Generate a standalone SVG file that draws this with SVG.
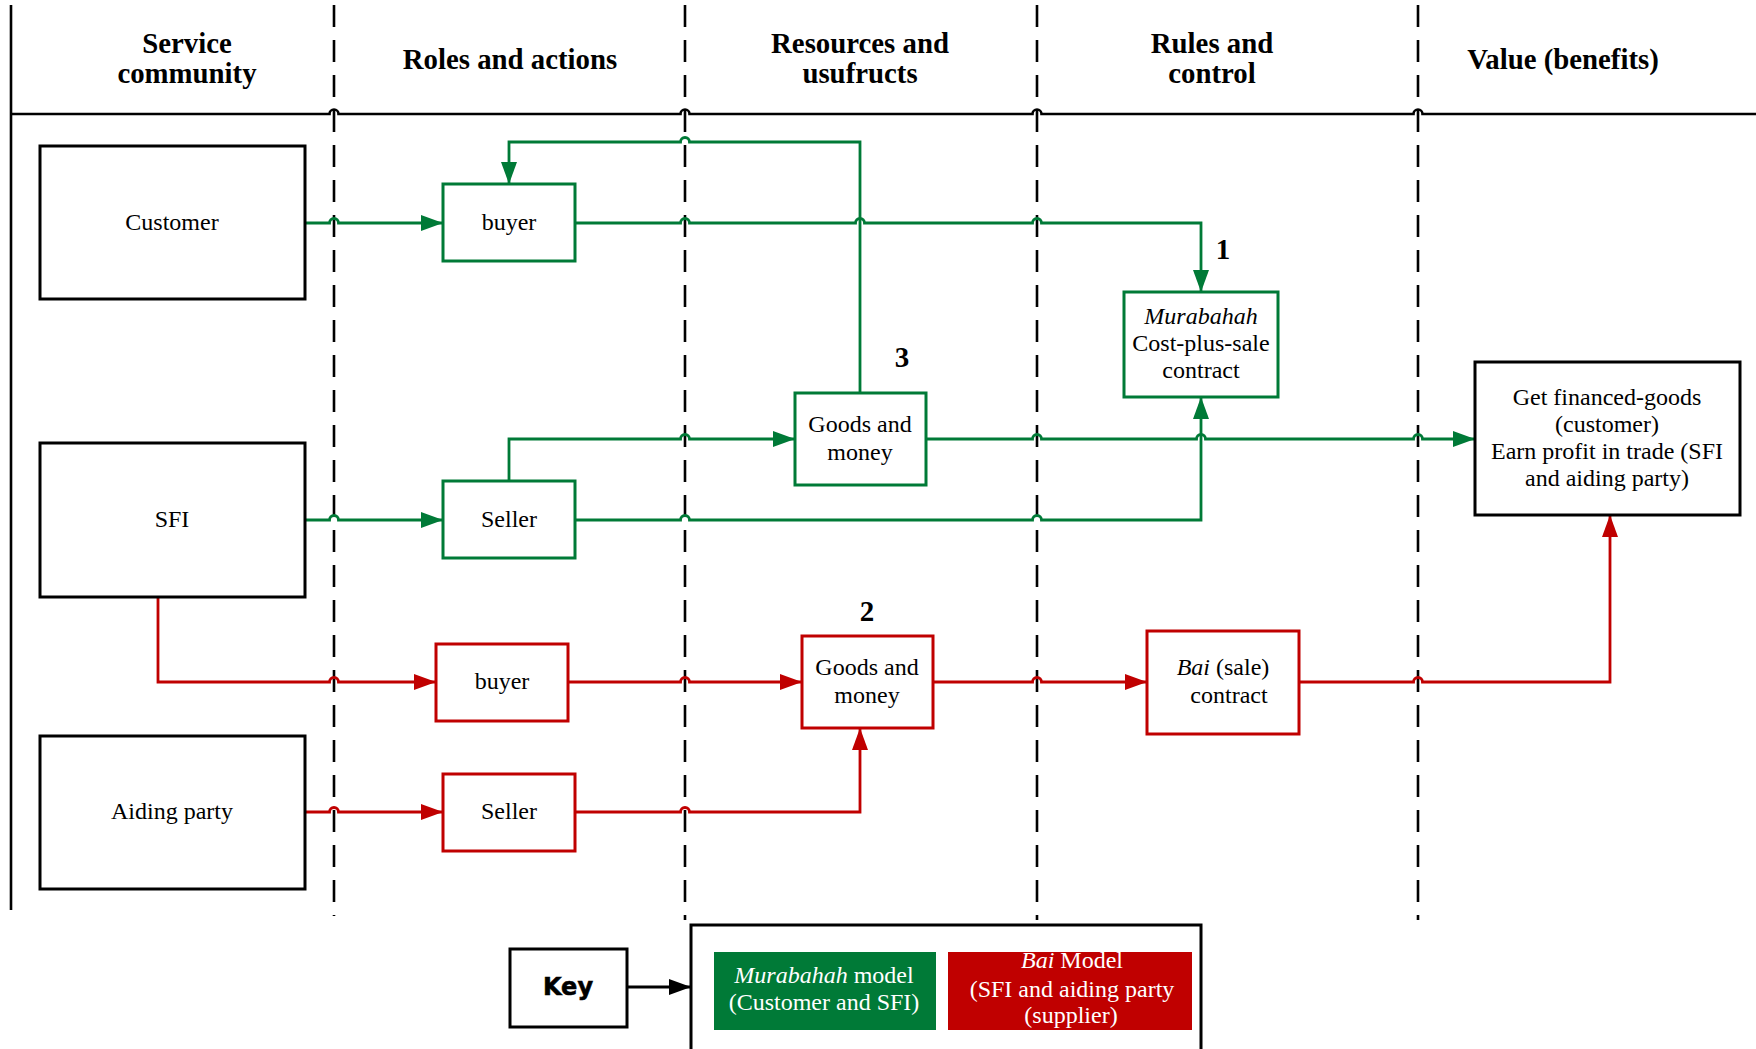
<svg xmlns="http://www.w3.org/2000/svg" width="1756" height="1049" viewBox="0 0 1756 1049">
  <style>
    .hdr { font-family: "Liberation Serif", "Times New Roman", serif; font-size: 28.8px; font-weight: bold; text-anchor: middle; fill: #000; }
    .txt { font-family: "Liberation Serif", "Times New Roman", serif; font-size: 24px; text-anchor: middle; fill: #000; }
    .num { font-family: "Liberation Serif", "Times New Roman", serif; font-size: 29px; font-weight: bold; text-anchor: middle; fill: #000; }
    .lane { stroke: #000; stroke-width: 2.6; fill: none; }
    .dash { stroke: #000; stroke-width: 2.6; stroke-dasharray: 22 13; fill: none; }
    .actor { fill: #fff; stroke: #000; stroke-width: 3; }
    .gbox { fill: #fff; stroke: #007a37; stroke-width: 3; }
    .rbox { fill: #fff; stroke: #c00000; stroke-width: 3; }
    .gline { fill: none; stroke: #007a37; stroke-width: 2.8; marker-end: url(#arrowG); }
    .rline { fill: none; stroke: #c00000; stroke-width: 2.8; marker-end: url(#arrowR); }
    .wt { fill: #fff; }
  </style>
  <defs>
    <marker id="arrowG" markerUnits="userSpaceOnUse" markerWidth="24" markerHeight="18" refX="22" refY="8" orient="auto">
      <path d="M0,0 L22,8 L0,16 z" fill="#007a37"/>
    </marker>
    <marker id="arrowR" markerUnits="userSpaceOnUse" markerWidth="24" markerHeight="18" refX="22" refY="8" orient="auto">
      <path d="M0,0 L22,8 L0,16 z" fill="#c00000"/>
    </marker>
    <marker id="arrowK" markerUnits="userSpaceOnUse" markerWidth="24" markerHeight="18" refX="22" refY="8" orient="auto">
      <path d="M0,0 L22,8 L0,16 z" fill="#000"/>
    </marker>
  </defs>

  <rect width="1756" height="1049" fill="#fff"/>

  <!-- swimlane frame -->
  <g id="lanes">
    <line class="lane" x1="11" y1="5" x2="11" y2="910"/>
    <path class="lane" d="M11 114 H329.5 A4.5 4.5 0 0 1 338.5 114 H680.5 A4.5 4.5 0 0 1 689.5 114 H1032.5 A4.5 4.5 0 0 1 1041.5 114 H1413.5 A4.5 4.5 0 0 1 1422.5 114 H1756"/>
    <line class="dash" x1="334" y1="5" x2="334" y2="916"/>
    <line class="dash" x1="685" y1="5" x2="685" y2="920"/>
    <line class="dash" x1="1037" y1="5" x2="1037" y2="920"/>
    <line class="dash" x1="1418" y1="5" x2="1418" y2="920"/>
  </g>

  <!-- column headings -->
  <g id="headings">
    <text class="hdr" x="187" y="53">Service</text>
    <text class="hdr" x="187" y="83">community</text>
    <text class="hdr" x="510" y="69">Roles and actions</text>
    <text class="hdr" x="860" y="53">Resources and</text>
    <text class="hdr" x="860" y="83">usufructs</text>
    <text class="hdr" x="1212" y="53">Rules and</text>
    <text class="hdr" x="1212" y="83">control</text>
    <text class="hdr" x="1563" y="69">Value (benefits)</text>
  </g>

  <!-- connectors -->
  <g id="connectors">
    <!-- Murabahah flows -->
    <path class="gline" d="M305 223 H329.5 A4.5 4.5 0 0 1 338.5 223 H443"/>
    <path class="gline" d="M860 393 V142 H689.5 A4.5 4.5 0 0 0 680.5 142 H509 V184"/>
    <path class="gline" d="M575 223 H680.5 A4.5 4.5 0 0 1 689.5 223 H855.5 A4.5 4.5 0 0 1 864.5 223 H1032.5 A4.5 4.5 0 0 1 1041.5 223 H1201 V292"/>
    <path class="gline" d="M509 481 V439 H680.5 A4.5 4.5 0 0 1 689.5 439 H795"/>
    <path class="gline" d="M926 439 H1032.5 A4.5 4.5 0 0 1 1041.5 439 H1196.5 A4.5 4.5 0 0 1 1205.5 439 H1413.5 A4.5 4.5 0 0 1 1422.5 439 H1475"/>
    <path class="gline" d="M575 520 H680.5 A4.5 4.5 0 0 1 689.5 520 H1032.5 A4.5 4.5 0 0 1 1041.5 520 H1201 V397"/>
    <path class="gline" d="M305 520 H329.5 A4.5 4.5 0 0 1 338.5 520 H443"/>
    <!-- Bai flows -->
    <path class="rline" d="M158 597 V682 H329.5 A4.5 4.5 0 0 1 338.5 682 H436"/>
    <path class="rline" d="M568 682 H680.5 A4.5 4.5 0 0 1 689.5 682 H802"/>
    <path class="rline" d="M933 682 H1032.5 A4.5 4.5 0 0 1 1041.5 682 H1147"/>
    <path class="rline" d="M1299 682 H1413.5 A4.5 4.5 0 0 1 1422.5 682 H1610 V515"/>
    <path class="rline" d="M305 812 H329.5 A4.5 4.5 0 0 1 338.5 812 H443"/>
    <path class="rline" d="M575 812 H680.5 A4.5 4.5 0 0 1 689.5 812 H860 V728"/>
    <!-- key pointer -->
    <path d="M627 987 H691" fill="none" stroke="#000" stroke-width="2.8" marker-end="url(#arrowK)"/>
  </g>

  <!-- service community actors -->
  <g id="customer">
    <rect class="actor" x="40" y="146" width="265" height="153"/>
    <text class="txt" x="172" y="230">Customer</text>
  </g>
  <g id="sfi">
    <rect class="actor" x="40" y="443" width="265" height="154"/>
    <text class="txt" x="172" y="527">SFI</text>
  </g>
  <g id="aiding-party">
    <rect class="actor" x="40" y="736" width="265" height="153"/>
    <text class="txt" x="172" y="819">Aiding party</text>
  </g>

  <!-- roles -->
  <g id="buyer-murabahah">
    <rect class="gbox" x="443" y="184" width="132" height="77"/>
    <text class="txt" x="509" y="230">buyer</text>
  </g>
  <g id="seller-murabahah">
    <rect class="gbox" x="443" y="481" width="132" height="77"/>
    <text class="txt" x="509" y="527">Seller</text>
  </g>
  <g id="buyer-bai">
    <rect class="rbox" x="436" y="644" width="132" height="77"/>
    <text class="txt" x="502" y="689">buyer</text>
  </g>
  <g id="seller-bai">
    <rect class="rbox" x="443" y="774" width="132" height="77"/>
    <text class="txt" x="509" y="819">Seller</text>
  </g>

  <!-- resources -->
  <g id="goods-money-murabahah">
    <rect class="gbox" x="795" y="393" width="131" height="92"/>
    <text class="txt" x="860" y="432">Goods and</text>
    <text class="txt" x="860" y="460">money</text>
    <text class="num" x="902" y="367">3</text>
  </g>
  <g id="goods-money-bai">
    <rect class="rbox" x="802" y="636" width="131" height="92"/>
    <text class="txt" x="867" y="675">Goods and</text>
    <text class="txt" x="867" y="703">money</text>
    <text class="num" x="867" y="621">2</text>
  </g>

  <!-- contracts -->
  <g id="murabahah-contract">
    <rect class="gbox" x="1124" y="292" width="154" height="105"/>
    <text class="txt" x="1201" y="324" font-style="italic">Murabahah</text>
    <text class="txt" x="1201" y="351">Cost-plus-sale</text>
    <text class="txt" x="1201" y="378">contract</text>
    <text class="num" x="1223" y="259">1</text>
  </g>
  <g id="bai-contract">
    <rect class="rbox" x="1147" y="631" width="152" height="103"/>
    <text class="txt" x="1223" y="675"><tspan font-style="italic">Bai</tspan> (sale)</text>
    <text class="txt" x="1229" y="703">contract</text>
  </g>

  <!-- value -->
  <g id="value">
    <rect class="actor" x="1475" y="362" width="265" height="153"/>
    <text class="txt" x="1607" y="405">Get financed-goods</text>
    <text class="txt" x="1607" y="432">(customer)</text>
    <text class="txt" x="1607" y="459">Earn profit in trade (SFI</text>
    <text class="txt" x="1607" y="486">and aiding party)</text>
  </g>

  <!-- key -->
  <g id="key">
    <rect class="actor" x="510" y="949" width="117" height="78"/>
    <text x="568" y="995" font-family="'DejaVu Sans', 'Liberation Sans', sans-serif" font-size="24" font-weight="bold" text-anchor="middle" stroke="#000" stroke-width="0.6">Key</text>
  </g>
  <g id="legend">
    <rect x="691" y="925" width="510" height="126" fill="#fff" stroke="#000" stroke-width="3"/>
    <rect x="714" y="952" width="222" height="78" fill="#007a37"/>
    <text class="txt wt" x="824" y="983"><tspan font-style="italic">Murabahah</tspan> model</text>
    <text class="txt wt" x="824" y="1010">(Customer and SFI)</text>
    <rect x="948" y="952" width="244" height="78" fill="#c00000"/>
    <text class="txt wt" x="1072" y="968"><tspan font-style="italic">Bai</tspan> Model</text>
    <text class="txt wt" x="1072" y="997">(SFI and aiding party</text>
    <text class="txt wt" x="1071" y="1023">(supplier)</text>
  </g>
</svg>
